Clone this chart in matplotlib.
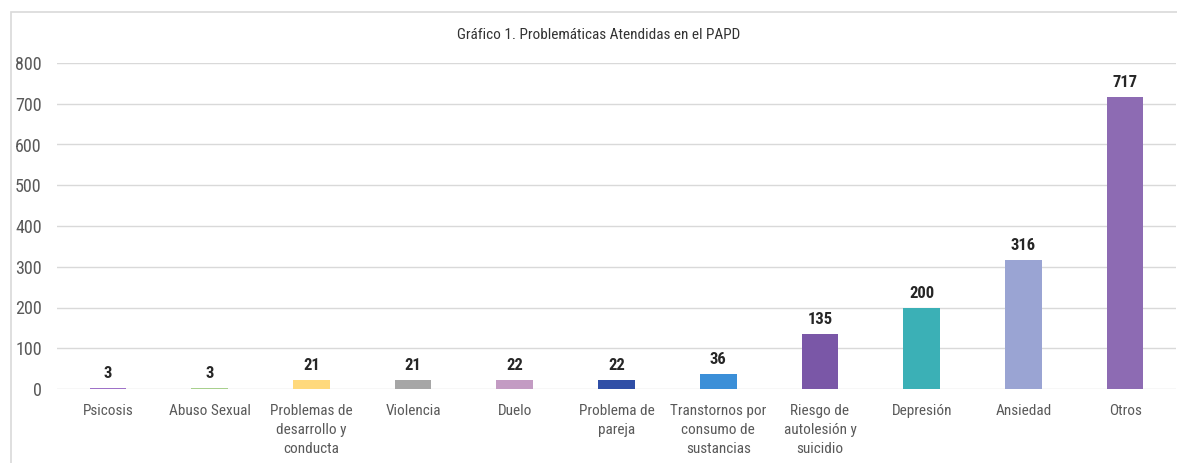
import matplotlib
matplotlib.use("Agg")
import matplotlib.pyplot as plt
from matplotlib.patches import Rectangle
from matplotlib import font_manager

categories = ["Psicosis", "Abuso Sexual", "Problemas de\ndesarrollo y\nconducta", "Violencia",
              "Duelo", "Problema de\npareja", "Transtornos por\nconsumo de\nsustancias",
              "Riesgo de\nautolesión y\nsuicidio", "Depresión", "Ansiedad", "Otros"]
values = [3, 3, 21, 21, 22, 22, 36, 135, 200, 316, 717]
colors = ["#9f72c8", "#a8d08d", "#ffd97c", "#a6a6a6", "#c39bc3", "#2f4ea6",
          "#3b8fd8", "#7a57a7", "#3bb0b6", "#9aa4d3", "#8d6bb3"]
yticks = [0, 100, 200, 300, 400, 500, 600, 700, 800]
title = "Gráfico 1. Problemáticas Atendidas en el PAPD"

names = {f.name for f in font_manager.fontManager.ttflist}
condensed = None
for cand in ["Liberation Sans Narrow", "Roboto Condensed", "Noto Sans Condensed",
             "Open Sans Condensed", "DejaVu Sans Condensed"]:
    if cand in names:
        condensed = cand
        break
if condensed:
    fam = [condensed, "DejaVu Sans"]
    cat_size, tick_size, title_size, val_size = 11, 13, 11, 12
else:
    fam = ["Roboto", "DejaVu Sans"]
    cat_size, tick_size, title_size, val_size = 10, 12, 10, 11

W, H = 1177, 463
fig = plt.figure(figsize=(W / 100, H / 100), dpi=100)
ax = fig.add_axes([57 / W, 74 / H, (1176 - 57) / W, (389 - 63) / H])

x = list(range(len(categories)))
ax.bar(x, values, width=0.36, color=colors, zorder=3)
ax.set_xlim(-0.5, len(categories) - 0.5)
ax.set_ylim(0, 800)
ax.set_yticks(yticks)
ax.yaxis.grid(True, color="#d9d9d9", linewidth=1.0, zorder=0)
ax.set_axisbelow(True)
for s in ax.spines.values():
    s.set_visible(False)
ax.tick_params(axis="both", length=0)
ax.tick_params(axis="y", pad=11, labelcolor="#595959", labelsize=tick_size)
ax.tick_params(axis="x", pad=11, labelcolor="#595959", labelsize=cat_size)
ax.set_xticks(x)
ax.set_xticklabels(categories, family=fam, linespacing=1.45, va="top")
for lab in ax.get_yticklabels():
    lab.set_family(fam)

for xi, v in zip(x, values):
    ax.annotate(str(v), (xi, v), xytext=(0, 5), textcoords="offset points",
                ha="center", va="bottom", fontsize=val_size, fontweight="bold",
                color="#262626", family=fam)

fig.text(599 / W, 1 - 35 / H, title, ha="center", va="center", fontsize=title_size,
         color="#333333", family=fam)

fig.patches.append(Rectangle((11 / W, -0.1), 1.2, (H - 12) / H + 0.1,
                             transform=fig.transFigure, fill=False,
                             edgecolor="#d9d9d9", linewidth=1.2))

fig.savefig("out.png", dpi=100)
